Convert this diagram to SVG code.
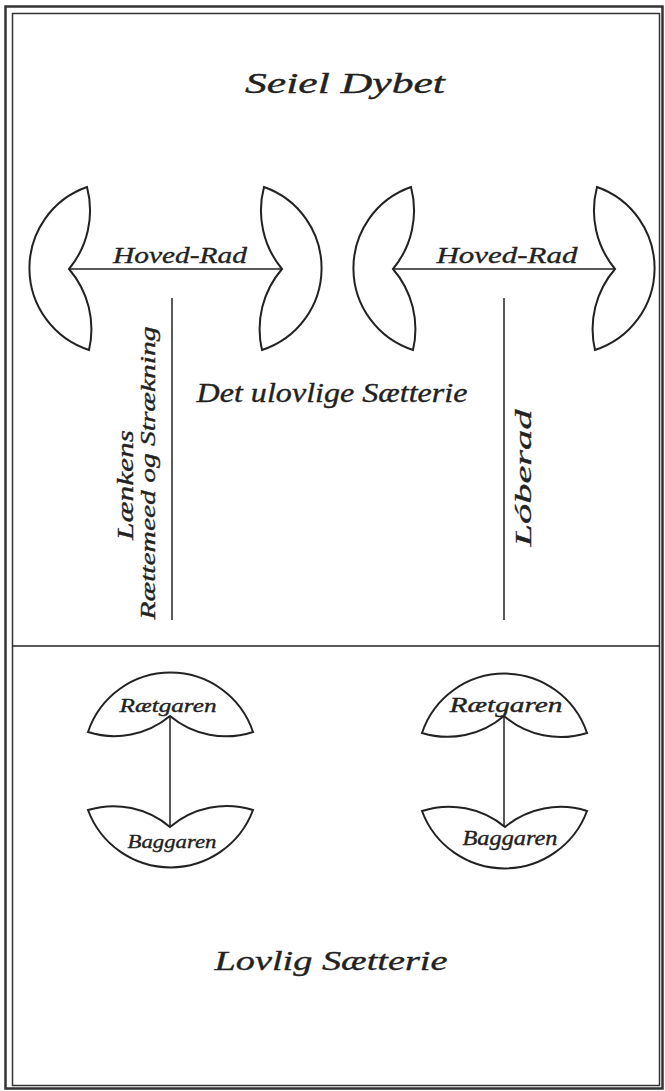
<svg xmlns="http://www.w3.org/2000/svg" width="665" height="1091" viewBox="0 0 665 1091">
<style>
.t{font-family:"Liberation Serif","DejaVu Serif",serif;font-style:italic;fill:#222;stroke:#222;stroke-width:0.35;}
.s{fill:#fff;stroke:#222;stroke-width:2;stroke-linejoin:miter;}
.l{stroke:#222;stroke-width:1.5;fill:none;}
</style>
<rect width="665" height="1091" fill="#fff"/>
<g id="border">
<rect x="5.5" y="6.5" width="657" height="1082" fill="none" stroke="#333" stroke-width="2.5"/>
<rect x="12.5" y="13.5" width="647" height="1072" fill="none" stroke="#333" stroke-width="1.5"/>
</g>
<g id="connectors">
<line class="l" x1="69" y1="269" x2="282" y2="269"/>
<line class="l" x1="393" y1="269" x2="615" y2="269"/>
<line class="l" x1="172" y1="298" x2="172" y2="620"/>
<line class="l" x1="504" y1="298" x2="504" y2="620"/>
<line class="l" x1="12" y1="646" x2="660" y2="646"/>
<line class="l" x1="170" y1="716" x2="170" y2="827"/>
<line class="l" x1="504" y1="716" x2="504" y2="827"/>
</g>
<g id="title"><text class="t" x="345" y="93" font-size="30" text-anchor="middle" textLength="200" lengthAdjust="spacingAndGlyphs">Seiel Dybet</text></g>
<g id="net-left-a"><path class="s" d="M87,187 A86,86 0 0 0 89,350 A92,92 0 0 0 69,269 A92,92 0 0 0 87,187 Z"/></g>
<g id="net-left-b"><path class="s" d="M264,187 A86,86 0 0 1 262,350 A92,92 0 0 1 282,269 A92,92 0 0 1 264,187 Z"/></g>
<g id="net-right-a"><path class="s" d="M411,187 A86,86 0 0 0 413,350 A92,92 0 0 0 393,269 A92,92 0 0 0 411,187 Z"/></g>
<g id="net-right-b"><path class="s" d="M597,187 A86,86 0 0 1 595,350 A92,92 0 0 1 615,269 A92,92 0 0 1 597,187 Z"/></g>
<g id="label-hoved-1"><text class="t" x="180" y="263" font-size="24" text-anchor="middle" textLength="134" lengthAdjust="spacingAndGlyphs">Hoved-Rad</text></g>
<g id="label-hoved-2"><text class="t" x="507" y="263" font-size="24" text-anchor="middle" textLength="141" lengthAdjust="spacingAndGlyphs">Hoved-Rad</text></g>
<g id="label-ulovlig"><text class="t" x="332" y="402" font-size="27" text-anchor="middle" textLength="271" lengthAdjust="spacingAndGlyphs">Det ulovlige Sætterie</text></g>
<g id="label-laenkens"><text class="t" transform="translate(133,485) rotate(-90)" font-size="24" text-anchor="middle" textLength="110" lengthAdjust="spacingAndGlyphs">Lænkens</text></g>
<g id="label-raettemeed"><text class="t" transform="translate(155,473) rotate(-90)" font-size="22" text-anchor="middle" textLength="293" lengthAdjust="spacingAndGlyphs">Rættemeed og Strækning</text></g>
<g id="label-loberad"><text class="t" transform="translate(531,478) rotate(-90)" font-size="24" text-anchor="middle" textLength="137" lengthAdjust="spacingAndGlyphs">Lóberad</text></g>
<g id="raet-left"><path class="s" d="M88,732 A87,87 0 0 1 253,732 A87,87 0 0 1 170,716 A87,87 0 0 1 88,732 Z"/>
<text class="t" x="168" y="712" font-size="19" text-anchor="middle" textLength="97" lengthAdjust="spacingAndGlyphs">Rætgaren</text></g>
<g id="bag-left"><path class="s" d="M88,810 A87,87 0 0 1 170,827 A87,87 0 0 1 253,810 A88,88 0 0 1 88,810 Z"/>
<text class="t" x="172" y="848" font-size="19" text-anchor="middle" textLength="89" lengthAdjust="spacingAndGlyphs">Baggaren</text></g>
<g id="raet-right"><path class="s" d="M422,733 A87,87 0 0 1 587,733 A87,87 0 0 1 504,716 A87,87 0 0 1 422,733 Z"/>
<text class="t" x="506" y="712" font-size="20" text-anchor="middle" textLength="113" lengthAdjust="spacingAndGlyphs">Rætgaren</text></g>
<g id="bag-right"><path class="s" d="M422,811 A87,87 0 0 1 505,827 A87,87 0 0 1 587,811 A88,88 0 0 1 422,811 Z"/>
<text class="t" x="510" y="845" font-size="20" text-anchor="middle" textLength="95" lengthAdjust="spacingAndGlyphs">Baggaren</text></g>
<g id="label-lovlig"><text class="t" x="331" y="970" font-size="28" text-anchor="middle" textLength="233" lengthAdjust="spacingAndGlyphs">Lovlig Sætterie</text></g>
</svg>
